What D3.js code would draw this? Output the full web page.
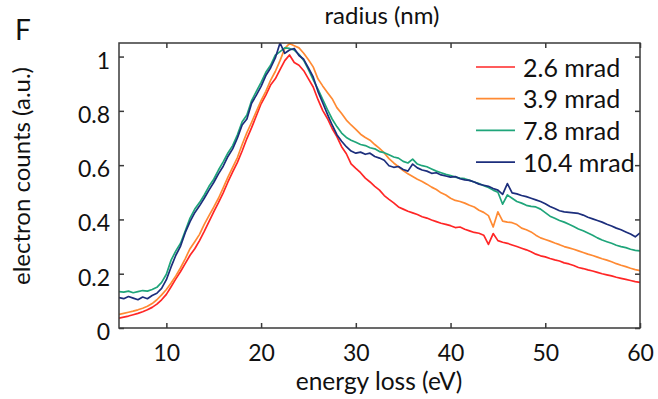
<!DOCTYPE html>
<html>
<head>
<meta charset="utf-8">
<script src="https://cdn.jsdelivr.net/npm/d3@7"></script>
<style>
  html, body { margin: 0; padding: 0; background: #fff; }
  svg text { font-family: Lato, "Open Sans", sans-serif; fill: #111; }
</style>
</head>
<body>
<svg id="chart" width="658" height="399"></svg>
<script>
const energy = [5,5.5,6,6.5,7,7.5,8,8.5,9,9.5,10,10.5,11,11.5,12,12.5,13,13.5,14,14.5,15,15.5,16,16.5,17,17.5,18,18.5,19,19.5,20,20.5,21,21.5,22,22.5,23,23.5,24,24.5,25,25.5,26,26.5,27,27.5,28,28.5,29,29.5,30,30.5,31,31.5,32,32.5,33,33.5,34,34.5,35,35.5,36,36.5,37,37.5,38,38.5,39,39.5,40,40.5,41,41.5,42,42.5,43,43.5,44,44.5,45,45.5,46,46.5,47,47.5,48,48.5,49,49.5,50,50.5,51,51.5,52,52.5,53,53.5,54,54.5,55,55.5,56,56.5,57,57.5,58,58.5,59,59.5,60];

const mrad26 = [0.036,0.040,0.044,0.049,0.054,0.060,0.067,0.076,0.088,0.104,0.124,0.152,0.181,0.208,0.238,0.268,0.292,0.322,0.356,0.392,0.428,0.462,0.498,0.538,0.575,0.610,0.652,0.698,0.738,0.782,0.826,0.858,0.895,0.918,0.952,0.985,1.006,0.978,0.968,0.948,0.918,0.888,0.842,0.802,0.772,0.735,0.705,0.668,0.642,0.605,0.588,0.572,0.552,0.538,0.522,0.508,0.488,0.474,0.461,0.446,0.438,0.430,0.424,0.418,0.410,0.405,0.398,0.392,0.386,0.382,0.377,0.370,0.372,0.364,0.358,0.352,0.349,0.342,0.308,0.348,0.322,0.316,0.312,0.306,0.300,0.294,0.288,0.281,0.272,0.266,0.262,0.256,0.251,0.247,0.240,0.236,0.230,0.223,0.219,0.214,0.210,0.205,0.200,0.196,0.192,0.187,0.183,0.179,0.175,0.171,0.168];

const mrad39 = [0.050,0.054,0.058,0.062,0.067,0.073,0.080,0.090,0.104,0.122,0.142,0.166,0.192,0.222,0.256,0.292,0.318,0.345,0.382,0.414,0.445,0.478,0.516,0.556,0.592,0.628,0.676,0.720,0.758,0.798,0.838,0.872,0.912,0.945,0.985,1.030,1.048,1.040,1.032,1.012,0.988,0.962,0.918,0.892,0.868,0.845,0.812,0.790,0.766,0.748,0.732,0.714,0.702,0.692,0.676,0.662,0.645,0.624,0.608,0.594,0.580,0.568,0.558,0.548,0.540,0.530,0.519,0.510,0.498,0.490,0.478,0.470,0.466,0.460,0.452,0.446,0.434,0.426,0.414,0.372,0.428,0.394,0.390,0.388,0.381,0.368,0.362,0.354,0.342,0.332,0.326,0.320,0.313,0.307,0.300,0.295,0.290,0.284,0.278,0.272,0.267,0.261,0.255,0.250,0.244,0.237,0.231,0.226,0.220,0.215,0.211];

const mrad78 = [0.134,0.132,0.136,0.130,0.134,0.138,0.136,0.142,0.150,0.168,0.198,0.250,0.284,0.312,0.358,0.405,0.438,0.462,0.490,0.522,0.548,0.582,0.612,0.645,0.672,0.712,0.760,0.785,0.838,0.872,0.905,0.942,0.968,1.005,1.018,1.032,1.030,1.024,1.008,0.986,0.952,0.915,0.880,0.842,0.805,0.770,0.742,0.718,0.702,0.692,0.684,0.676,0.672,0.664,0.660,0.650,0.646,0.638,0.630,0.626,0.614,0.608,0.622,0.604,0.598,0.594,0.586,0.578,0.572,0.566,0.562,0.556,0.552,0.550,0.544,0.538,0.532,0.524,0.518,0.508,0.500,0.456,0.490,0.478,0.466,0.460,0.452,0.448,0.446,0.438,0.425,0.412,0.404,0.396,0.390,0.382,0.374,0.365,0.358,0.350,0.342,0.332,0.324,0.318,0.312,0.305,0.300,0.296,0.290,0.286,0.284];

const mrad104 = [0.112,0.108,0.116,0.110,0.104,0.114,0.108,0.120,0.128,0.146,0.178,0.225,0.268,0.302,0.352,0.392,0.425,0.450,0.478,0.508,0.536,0.568,0.596,0.632,0.660,0.700,0.748,0.770,0.828,0.858,0.890,0.930,0.958,0.995,1.050,1.012,1.024,1.030,1.004,0.990,0.958,0.925,0.872,0.830,0.788,0.748,0.712,0.688,0.668,0.652,0.644,0.648,0.640,0.644,0.632,0.626,0.618,0.598,0.592,0.595,0.584,0.578,0.604,0.590,0.582,0.578,0.570,0.572,0.564,0.560,0.556,0.558,0.550,0.546,0.544,0.538,0.530,0.526,0.522,0.514,0.508,0.492,0.532,0.498,0.494,0.488,0.484,0.478,0.472,0.466,0.458,0.448,0.440,0.432,0.428,0.426,0.424,0.422,0.416,0.408,0.402,0.396,0.390,0.382,0.376,0.368,0.362,0.354,0.346,0.336,0.350];

const seriesNames = ["2.6 mrad", "3.9 mrad", "7.8 mrad", "10.4 mrad"];
const seriesValues = [mrad26, mrad39, mrad78, mrad104];
const seriesColors = ["#ff2626", "#ff8a33", "#1fa57a", "#1c2e7c"];
const xTicks = [10, 20, 30, 40, 50, 60];
const yTicks = [0, 0.2, 0.4, 0.6, 0.8, 1];
const yTickLabels = ["0", "0.2", "0.4", "0.6", "0.8", "1"];

const W = 658, H = 399;
const m = { left: 119, right: 18, top: 43, bottom: 71 };
const pw = W - m.left - m.right, ph = H - m.top - m.bottom;

const svg = d3.select("#chart");
const x = d3.scaleLinear().domain([5, 60]).range([m.left, m.left + pw]);
const y = d3.scaleLinear().domain([0, 1.05]).range([m.top + ph, m.top]);

svg.append("defs").append("clipPath").attr("id", "clip")
  .append("rect").attr("x", m.left).attr("y", m.top).attr("width", pw).attr("height", ph);

const line = d3.line().x(d => x(d[0])).y(d => y(d[1]));
const g = svg.append("g").attr("clip-path", "url(#clip)");
seriesValues.forEach((vals, i) => {
  g.append("path")
    .datum(energy.map((e, j) => [e, vals[j]]))
    .attr("d", line)
    .attr("fill", "none")
    .attr("stroke", seriesColors[i])
    .attr("stroke-width", 1.7)
    .attr("stroke-linejoin", "round");
});

const axColor = "#3a3a3a";
svg.append("rect").attr("x", m.left).attr("y", m.top).attr("width", pw).attr("height", ph)
  .attr("fill", "none").attr("stroke", axColor).attr("stroke-width", 1.5);

function styleAxis(sel) {
  sel.select(".domain").remove();
  sel.selectAll(".tick line").attr("stroke", axColor).attr("stroke-width", 1.5);
}
const fsTick = 23;
const fsText = 24.5;
svg.append("g").attr("transform", `translate(0,${m.top + ph})`)
  .call(d3.axisBottom(x).tickValues(xTicks).tickSize(-5).tickPadding(17))
  .call(styleAxis)
  .call(s => s.selectAll("text").attr("font-size", fsTick).attr("font-family", "Lato").attr("fill", "#111"));
svg.append("g").attr("transform", `translate(0,${m.top})`)
  .call(d3.axisTop(x).tickValues(xTicks).tickSize(-5).tickFormat(""))
  .call(styleAxis);
svg.append("g").attr("transform", `translate(${m.left},0)`)
  .call(d3.axisLeft(y).tickValues(yTicks).tickSize(-5).tickPadding(9)
    .tickFormat((d, i) => yTickLabels[i]))
  .call(styleAxis)
  .call(s => s.selectAll("text").attr("font-size", fsTick).attr("font-family", "Lato")
    .attr("fill", "#111").attr("dy", "0.5em"));
svg.append("g").attr("transform", `translate(${m.left + pw},0)`)
  .call(d3.axisRight(y).tickValues(yTicks).tickSize(-5).tickFormat(""))
  .call(styleAxis);

svg.append("text").attr("x", 382).attr("y", 24).attr("text-anchor", "middle")
  .attr("font-size", 24).text("radius (nm)");
svg.append("text").attr("x", 15).attr("y", 40).attr("font-size", 28).text("F");
svg.append("text").attr("x", 379).attr("y", 390).attr("text-anchor", "middle")
  .attr("font-size", fsText).text("energy loss (eV)");
svg.append("text").attr("transform", `translate(30,176) rotate(-90)`).attr("text-anchor", "middle")
  .attr("font-size", 24).text("electron counts (a.u.)");

const leg = svg.append("g");
seriesNames.forEach((name, i) => {
  const yy = 67 + i * 31.7;
  leg.append("line").attr("x1", 476).attr("x2", 515).attr("y1", yy).attr("y2", yy)
    .attr("stroke", seriesColors[i]).attr("stroke-width", 1.7);
  leg.append("text").attr("x", 523).attr("y", yy).attr("dy", "0.38em")
    .attr("font-size", 25).text(name);
});
</script>
</body>
</html>
